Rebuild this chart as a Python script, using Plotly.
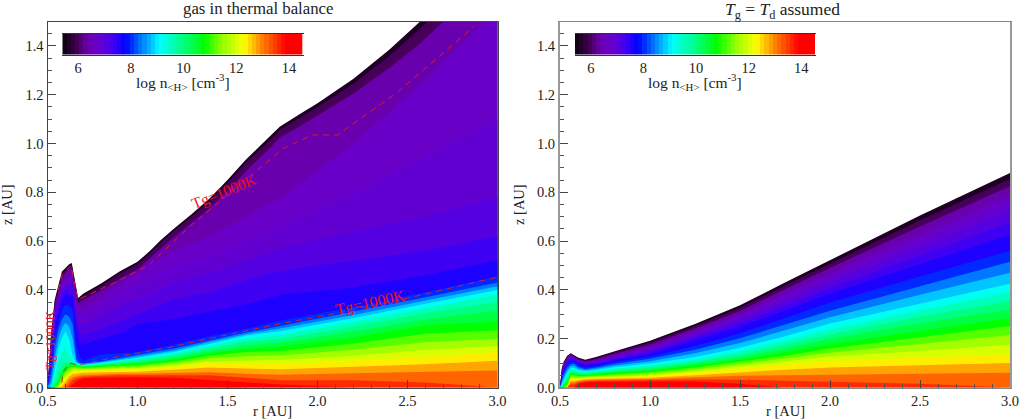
import plotly.graph_objects as go
from plotly.colors import sample_colorscale

W, H = 1020, 420
LEVELS = [5.4,5.8,6.2,6.6,6.8,7.0,7.2,7.4,7.8,8.2,8.6,9.0,9.4,9.8,10.2,10.6,11.0,11.4,11.8,12.2,12.6,13.0,13.4,13.8,14.2]

# left panel: the three outermost density curves, read on their own radii
R_EDGE = [.5,.52,.54,.56,.58,.6,.62,.635,.655,.67,.7,.75,.8,.9,1.0,1.07,1.13,1.2,1.3,1.4,1.5,1.6,1.74,1.79,1.9,2.0,2.2,2.4,2.57,2.7,2.85,3.0]
E_54 = [0,.22,.36,.42,.475,.49,.505,.51,.43,.367,.385,.405,.427,.475,.515,.56,.604,.65,.71,.775,.85,.932,1.03,1.069,1.12,1.165,1.265,1.385,1.5,1.6,1.72,1.85]
E_58 = [0,.21,.35,.41,.465,.48,.495,.50,.42,.36,.375,.395,.417,.465,.505,.55,.594,.64,.70,.765,.838,.92,1.015,1.055,1.105,1.15,1.245,1.36,1.47,1.565,1.685,1.8]
E_62 = [0,.195,.335,.395,.45,.47,.485,.49,.405,.345,.36,.38,.40,.445,.485,.53,.57,.615,.675,.735,.805,.885,.985,1.025,1.07,1.115,1.205,1.31,1.41,1.5,1.62,1.73]

# left panel: remaining levels (6.6 upward) at each radius
R_LEFT = [0.5,0.52,0.54,0.56,0.58,0.6,0.62,0.64,0.66,0.68,0.7,0.75,0.8,0.9,1.0,1.2,1.4,1.6,1.8,2.2,2.6,3.0]
L_050 = [0]
L_052 = [.175,.162,.15,.135,.12,.085,.05,.02]
L_054 = [.315,.30,.285,.27,.25,.21,.165,.12,.075,.04,.015]
L_056 = [.37,.36,.345,.33,.31,.27,.235,.2,.16,.105,.06,.04,.025,.015,.005]
L_058 = [.425,.41,.395,.38,.36,.32,.28,.245,.205,.14,.09,.07,.055,.042,.032,.024,.015,.005]
L_060 = [.445,.43,.415,.40,.38,.34,.3,.265,.23,.16,.105,.09,.078,.068,.058,.048,.038,.025,.01]
L_062 = [.455,.44,.42,.40,.38,.335,.29,.25,.2,.125,.1,.095,.088,.08,.072,.064,.055,.044,.03,.012]
L_064 = [.46,.44,.42,.395,.37,.32,.26,.2,.13,.11,.1,.095,.09,.085,.079,.072,.064,.054,.042,.03,.012]
L_066 = [.35,.325,.30,.27,.24,.17,.115,.105,.1,.097,.095,.092,.09,.085,.079,.073,.066,.057,.047,.038,.026]
L_068 = [.32,.29,.255,.22,.185,.125,.1,.097,.095,.093,.091,.089,.087,.083,.078,.073,.067,.058,.049,.042,.033,.016]
L_070 = [.33,.295,.26,.215,.175,.11,.1,.096,.093,.091,.089,.087,.085,.081,.077,.073,.069,.06,.05,.044,.038,.025]
L_075 = [.35,.31,.275,.23,.19,.125,.102,.099,.096,.093,.091,.088,.086,.082,.078,.074,.07,.061,.052,.046,.04,.027]
L_080 = [.37,.33,.29,.24,.20,.135,.108,.104,.101,.098,.095,.092,.089,.085,.08,.075,.07,.062,.054,.048,.041,.028]
L_090 = [.42,.38,.33,.27,.22,.14,.122,.116,.111,.106,.102,.098,.094,.09,.084,.078,.073,.065,.056,.05,.043,.03]
L_100 = [.47,.42,.36,.30,.26,.146,.134,.127,.122,.115,.109,.103,.097,.091,.085,.079,.073,.065,.056,.05,.042,.028]
L_120 = [.56,.50,.43,.36,.28,.175,.16,.152,.146,.138,.13,.122,.114,.106,.098,.09,.083,.073,.06,.05,.04,.022]
L_140 = [.62,.54,.47,.39,.31,.21,.192,.186,.18,.17,.16,.15,.14,.13,.12,.108,.098,.082,.062,.05,.03,.01]
L_160 = [.70,.60,.52,.44,.34,.24,.225,.218,.212,.2,.187,.172,.158,.145,.128,.11,.097,.078,.056,.04,.02]
L_180 = [.78,.66,.57,.48,.38,.275,.253,.243,.232,.215,.2,.185,.168,.15,.132,.113,.096,.075,.052,.03,.012]
L_220 = [1.0,.80,.64,.52,.41,.33,.31,.297,.285,.268,.25,.228,.205,.18,.155,.13,.11,.085,.058,.03]
L_260 = [1.26,.95,.70,.56,.46,.39,.37,.357,.343,.325,.305,.28,.255,.22,.185,.155,.125,.095,.065,.02]
L_300 = [1.55,1.1,.78,.62,.52,.455,.43,.415,.4,.38,.35,.315,.27,.235,.2,.17,.145,.11,.07]
LEFT_COLS = [L_050,L_052,L_054,L_056,L_058,L_060,L_062,L_064,L_066,L_068,L_070,L_075,L_080,L_090,L_100,L_120,L_140,L_160,L_180,L_220,L_260,L_300]

# right panel: all levels at each radius
R_RIGHT = [0.5,0.51,0.52,0.54,0.56,0.58,0.6,0.64,0.7,0.8,1.0,1.25,1.5,1.75,2.0,2.5,3.0]
K_050 = [0]
K_051 = [.08,.075,.07,.063,.059,.055,.051,.047,.038,.03,.022,.015,.01,.005]
K_052 = [.105,.1,.095,.088,.084,.08,.076,.072,.062,.052,.042,.032,.024,.016,.01,.005]
K_054 = [.13,.127,.122,.117,.114,.11,.106,.102,.093,.082,.071,.06,.05,.04,.03,.022,.015,.008]
K_056 = [.14,.138,.135,.13,.127,.124,.12,.115,.105,.095,.088,.08,.074,.069,.063,.058,.052,.046,.04,.035,.028,.02,.012]
K_058 = [.132,.13,.127,.123,.12,.118,.115,.112,.105,.097,.088,.08,.072,.065,.06,.055,.05,.044,.038,.033,.027,.02,.012]
K_060 = [.123,.12,.116,.112,.11,.107,.104,.1,.092,.084,.078,.072,.066,.06,.055,.051,.046,.042,.038,.034,.03,.026,.02,.015,.008]
K_064 = [.114,.111,.107,.102,.099,.096,.093,.09,.082,.076,.072,.067,.063,.058,.054,.05,.047,.044,.04,.037,.034,.03,.026,.022,.017]
K_070 = [.125,.121,.116,.11,.107,.103,.1,.096,.088,.082,.077,.072,.067,.062,.058,.054,.05,.046,.042,.039,.036,.032,.028,.024,.019]
K_080 = [.148,.143,.137,.13,.126,.122,.117,.112,.103,.096,.089,.083,.077,.071,.066,.061,.056,.051,.046,.042,.038,.033,.029,.025,.02]
K_100 = [.192,.185,.176,.165,.159,.152,.145,.138,.127,.118,.108,.098,.09,.083,.076,.069,.063,.057,.051,.046,.04,.035,.03,.025,.018]
K_125 = [.26,.252,.242,.229,.221,.212,.202,.192,.17,.155,.14,.125,.114,.105,.097,.09,.082,.074,.067,.06,.05,.042,.033,.025,.012]
K_150 = [.337,.327,.314,.298,.287,.275,.262,.248,.222,.202,.182,.163,.148,.135,.124,.114,.105,.096,.087,.078,.063,.048,.032,.015]
K_175 = [.43,.418,.403,.382,.368,.352,.335,.315,.285,.258,.235,.21,.192,.176,.16,.144,.13,.118,.106,.093,.073,.05,.028]
K_200 = [.522,.508,.49,.465,.448,.43,.408,.385,.348,.315,.288,.262,.238,.218,.2,.178,.16,.142,.127,.108,.082,.052,.025]
K_250 = [.705,.685,.66,.625,.60,.575,.54,.505,.455,.415,.38,.345,.315,.29,.262,.232,.205,.178,.15,.12,.09,.055,.015]
K_300 = [.879,.855,.825,.785,.755,.72,.675,.625,.56,.515,.47,.425,.39,.355,.32,.285,.252,.215,.175,.135,.1,.06]
RIGHT_COLS = [K_050,K_051,K_052,K_054,K_056,K_058,K_060,K_064,K_070,K_080,K_100,K_125,K_150,K_175,K_200,K_250,K_300]

TG_LOW_R = [.58,.586,.625,.67,.9,1.18,1.44,1.81,2.11,2.53,3.0]
TG_LOW_Z = [.02,.065,.10,.092,.128,.165,.207,.264,.305,.371,.453]
TG_UP_R = [.56,.58,.63,.655,.67,.9,1.06,1.29,1.5,1.81,1.97,2.11,2.44,2.87]
TG_UP_Z = [.40,.46,.50,.41,.36,.44,.50,.66,.79,.98,1.035,1.035,1.207,1.48]

X_TICKS = [0.5,1.0,1.5,2.0,2.5,3.0]
Y_TICKS = [0.0,0.2,0.4,0.6,0.8,1.0,1.2,1.4]
CB_TICKS = [6,8,10,12,14]
CB_MIN, CB_MAX = 5.4, 14.56
CB_STEP = 0.16
CS_POS = [5.4,6.0,6.3,6.5,6.7,7.0,7.2,7.4,7.6,7.8,8.4,9.1,10.0,10.8,11.5,12.3,13.0,13.9,14.56]
CS_COL = ['rgb(10,0,10)','rgb(70,0,90)','rgb(100,0,160)','rgb(110,0,185)','rgb(105,0,200)','rgb(95,0,215)','rgb(75,0,235)','rgb(50,0,248)','rgb(30,0,255)','rgb(0,0,255)','rgb(0,120,255)',
          'rgb(0,255,255)','rgb(0,255,128)','rgb(0,255,0)','rgb(150,255,0)','rgb(255,255,0)','rgb(255,128,0)',
          'rgb(255,0,0)','rgb(255,0,0)']
SCALE = [[(p-CB_MIN)/(CB_MAX-CB_MIN), c] for p, c in zip(CS_POS, CS_COL)]

def col(v):
    return sample_colorscale(SCALE, [(v-CB_MIN)/(CB_MAX-CB_MIN)])[0]

fig = go.Figure()
def add_level(rs, hs, k, xa, ya):
    lev = LEVELS[k]
    step = LEVELS[k+1]-lev if k+1 < len(LEVELS) else 0.4
    fig.add_trace(go.Scatter(x=[rs[0]]+rs+[rs[-1]], y=[0]+hs+[0], mode='lines', fill='toself',
                             fillcolor=col(lev+step/2), line=dict(width=0), hoverinfo='skip',
                             showlegend=False, xaxis=xa, yaxis=ya))
for k, curve in enumerate((E_54, E_58, E_62)):
    add_level(R_EDGE, curve, k, 'x', 'y')
for k in range(3, len(LEVELS)):
    add_level(R_LEFT, [c[k-3] if k-3 < len(c) else 0 for c in LEFT_COLS], k, 'x', 'y')
for k in range(len(LEVELS)):
    add_level(R_RIGHT, [c[k] if k < len(c) else 0 for c in RIGHT_COLS], k, 'x2', 'y2')
for rr, zz in ((TG_LOW_R, TG_LOW_Z), (TG_UP_R, TG_UP_Z)):
    fig.add_trace(go.Scatter(x=rr, y=zz, mode='lines', line=dict(color='rgb(215,30,50)', width=1, dash='6px,5px'),
                             hoverinfo='skip', showlegend=False, xaxis='x', yaxis='y'))

cb_vals = []
v = CB_MIN + CB_STEP/2
while v < CB_MAX:
    cb_vals.append(round(v, 3))
    v += CB_STEP
for xa, ya in (('x3', 'y3'), ('x4', 'y4')):
    fig.add_trace(go.Heatmap(x=cb_vals, y=[0, 1], z=[cb_vals, cb_vals], colorscale=SCALE, zmin=CB_MIN, zmax=CB_MAX,
                             showscale=False, hoverinfo='skip', xaxis=xa, yaxis=ya))

TF = dict(family='Liberation Serif', size=14.5, color='#222')
def dx(a, b): return [a/W, b/W]
def dy(top, bot): return [(H-bot)/H, (H-top)/H]

def main_axes(line_x, line_y):
    ax = dict(range=[0.5, 3.0], tickvals=X_TICKS, tickformat='.1f', ticks='inside', ticklen=8, tickwidth=1,
              tickcolor='#444', showline=True, linecolor=line_x, linewidth=1, mirror=True, showgrid=False,
              zeroline=False, automargin=False, tickfont=TF, minor=dict(dtick=0.1, ticks='inside', ticklen=4, tickwidth=1, tickcolor='#555'))
    ay = dict(range=[0, 1.5], tickvals=Y_TICKS, tickformat='.1f', ticks='inside', ticklen=8, tickwidth=1,
              tickcolor='#444', showline=True, linecolor=line_y, linewidth=1, mirror=True, showgrid=False,
              zeroline=False, automargin=False, tickfont=TF, minor=dict(dtick=0.05, ticks='inside', ticklen=4, tickwidth=1, tickcolor='#555'))
    return ax, ay
ax1, ay1 = main_axes('#444', '#444')
ax2, ay2 = main_axes('#888', '#999')
ay2['linewidth'] = 2
ax1['domain'] = dx(47.5, 497.5); ay1['domain'] = dy(21.5, 387.5)
ax2['domain'] = dx(560, 1010); ay2['domain'] = dy(21.5, 387.5)
ax1['anchor'] = 'y'; ay1['anchor'] = 'x'; ax2['anchor'] = 'y2'; ay2['anchor'] = 'x2'

def cb_axes(a, b, anchor):
    cx = dict(domain=dx(a, b), range=[CB_MIN, CB_MAX], tickvals=CB_TICKS, ticks='', tickfont=TF, anchor=anchor,
              showline=True, linecolor='#333', linewidth=1, mirror=True, showgrid=False, zeroline=False, automargin=False)
    cy = dict(domain=dy(34, 54.5), range=[0, 1], visible=False, fixedrange=True, automargin=False)
    return cx, cy
ax3, ay3 = cb_axes(62.3, 303.7, 'y3'); ay3['anchor'] = 'x3'
ax4, ay4 = cb_axes(575, 816, 'y4'); ay4['anchor'] = 'x4'

def px_ann(x, y, text, size=14.5, angle=0, color='#222'):
    return dict(x=x/W, y=1-y/H, xref='paper', yref='paper', text=text, showarrow=False, textangle=angle,
                xanchor='center', yanchor='middle', font=dict(family='Liberation Serif', size=size, color=color))
CB_LABEL = 'log n<sub>&lt;H&gt;</sub> [cm<sup>-3</sup>]'
anns = [
    px_ann(258, 8, 'gas in thermal balance', 16.8),
    px_ann(782, 10, '<i>T</i><sub>g</sub> = <i>T</i><sub>d</sub> assumed', 17.5),
    px_ann(272, 411, 'r [AU]'), px_ann(785, 411, 'r [AU]'),
    px_ann(7, 205, 'z [AU]', angle=-90), px_ann(519, 205, 'z [AU]', angle=-90),
    px_ann(183, 82, CB_LABEL, 15.5), px_ann(695, 82, CB_LABEL, 15.5),
    px_ann(49, 340, 'Tg=1000K', 13.5, -90, 'rgb(235,20,30)'),
    px_ann(224, 192, 'Tg=1000K', 15.5, -22, 'rgb(235,20,30)'),
    px_ann(370, 303, 'Tg=1000K', 16, -12, 'rgb(235,20,30)'),
]
fig.update_layout(width=W, height=H, margin=dict(l=0, r=0, t=0, b=0, autoexpand=False), paper_bgcolor='white', plot_bgcolor='white',
                  xaxis=ax1, yaxis=ay1, xaxis2=ax2, yaxis2=ay2, xaxis3=ax3, yaxis3=ay3, xaxis4=ax4, yaxis4=ay4,
                  annotations=anns, showlegend=False)
fig.write_html("out.html", config=dict(displayModeBar=False),
               post_script="document.body.style.margin='0';document.documentElement.style.overflow='hidden';")
